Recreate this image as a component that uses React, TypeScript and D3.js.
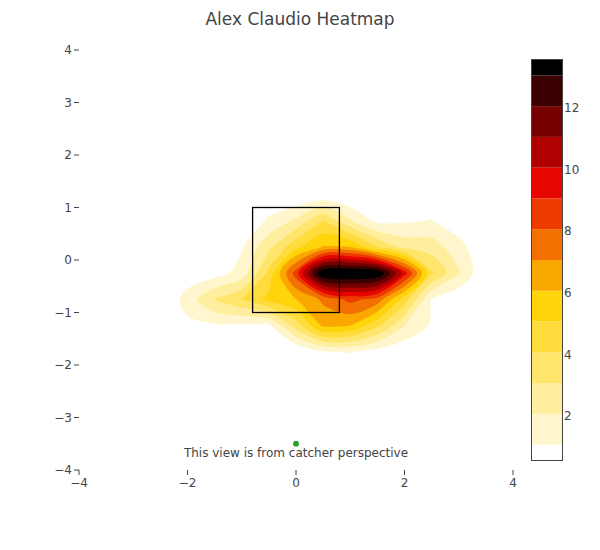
import React from 'react';
import * as d3 from 'd3';

const title = 'Alex Claudio Heatmap';
const note = 'This view is from catcher perspective';

// bin centres of the 2-D pitch histogram (feet)
const xBins = [-2.5, -2, -1.5, -1, -0.5, 0, 0.5, 1, 1.5, 2, 2.5, 3, 3.5];
const yBins = [1.25, 0.75, 0.25, -0.25, -0.75, -1.25, -1.75, -2.25];

// pitch counts per bin, top row first
const counts = [
  [0, 0, 0, 0, 0, 0, 0.2, 0, 0, 0, 0, 0, 0],
  [0, 0, 0, 0, 1.2, 2.2, 4.0, 2.1, 0.7, 0.85, 1.05, 0.3, 0],
  [0, 0, 0, 0.9, 2.74, 4.7, 6.05, 6.0, 4.0, 2.7, 2.5, 1.4, 0],
  [0, 0.4, 0.55, 1.4, 4.3, 8.5, 14.2, 14.4, 14.1, 9.5, 4.1, 2.1, 0],
  [0, 1.4, 3.05, 4.0, 5.3, 5.95, 7.2, 8.3, 7.6, 4.5, 0.9, 0.1, 0],
  [0, 0.75, 0.85, 0.8, 0.8, 3.5, 6.2, 6.0, 4.2, 2.0, 0.85, 0, 0],
  [0, 0, 0, 0, 0, 0, 0.85, 1.05, 0.6, 0.2, 0, 0, 0],
  [0, 0, 0, 0, 0, 0, 0, 0, 0, 0, 0, 0, 0],
];

const levels = [1, 2, 3, 4, 5, 6, 7, 8, 9, 10, 11, 12, 13];
const colorbarTicks = [2, 4, 6, 8, 10, 12];
const xTicks = [-4, -2, 0, 2, 4];
const yTicks = [-4, -3, -2, -1, 0, 1, 2, 3, 4];
const zoneX = [-0.8, 0.8];
const zoneY = [-1, 1];
const plate = { x: 0, y: -3.5 };

const W = 600;
const H = 550;
const font = '"DejaVu Sans", Verdana, sans-serif';
const ink = '#444';

const fmt = (v: number) => (v < 0 ? '\u2212' + Math.abs(v) : String(v));

export default function App() {
  const x = d3.scaleLinear().domain([-4, 4]).range([79, 513]);
  const y = d3.scaleLinear().domain([-4, 4]).range([470, 50]);

  // grid coordinates -> data coordinates (value i sits at i + 0.5)
  const nx = xBins.length;
  const ny = yBins.length;
  const gx = d3.scaleLinear().domain([0.5, nx - 0.5]).range([xBins[0], xBins[nx - 1]]);
  const gy = d3.scaleLinear().domain([0.5, ny - 0.5]).range([yBins[0], yBins[ny - 1]]);

  const hot = d3
    .scaleLinear<string>()
    .domain([0, 0.4, 0.7, 1])
    .range(['rgb(255,255,255)', 'rgb(255,210,0)', 'rgb(230,0,0)', 'rgb(0,0,0)'])
    .interpolate(d3.interpolateRgb);
  const bandColor = (i: number) => hot(i / levels.length);

  const contours = d3.contours().size([nx, ny]).thresholds(levels)(counts.flat());

  const line = d3.line().curve(d3.curveCatmullRomClosed.alpha(0.5));
  const toPath = (mp: number[][][][]) =>
    mp
      .map((poly) =>
        poly
          .map((ring) =>
            line(ring.slice(0, -1).map(([a, b]) => [x(gx(a)), y(gy(b))] as [number, number]))
          )
          .join('')
      )
      .join('');

  // colour bar
  const cb = d3.scaleLinear().domain([levels[0] - 0.5, levels[levels.length - 1] + 0.5]).range([460, 60]);
  const edges = [levels[0] - 0.5, ...levels, levels[levels.length - 1] + 0.5];

  return (
    <svg
      width={W}
      height={H}
      style={{ position: 'absolute', left: 0, top: 0, background: '#fff' }}
      fontFamily={font}
    >
      <rect width={W} height={H} fill="#fff" />

      <g>
        {contours.map((c, i) => (
          <path key={i} d={toPath(c.coordinates as any)} fill={bandColor(i + 1)} stroke="none" />
        ))}
      </g>

      <rect
        x={x(zoneX[0])}
        y={y(zoneY[1])}
        width={x(zoneX[1]) - x(zoneX[0])}
        height={y(zoneY[0]) - y(zoneY[1])}
        fill="none"
        stroke="#000"
        strokeWidth={1.3}
      />

      <circle cx={x(plate.x)} cy={y(plate.y)} r={3} fill="#2ca02c" />
      <text x={x(0)} y={457} textAnchor="middle" fontSize={12} fill={ink}>
        {note}
      </text>

      {/* y axis */}
      <g>
        {yTicks.map((t) => (
          <g key={t}>
            <line x1={74} x2={79} y1={y(t)} y2={y(t)} stroke={ink} strokeWidth={1} />
            <text x={72} y={y(t)} dy="0.35em" textAnchor="end" fontSize={12} fill={ink}>
              {fmt(t)}
            </text>
          </g>
        ))}
      </g>

      {/* x axis */}
      <g>
        {xTicks.map((t) => (
          <g key={t}>
            <line x1={x(t)} x2={x(t)} y1={470} y2={475} stroke={ink} strokeWidth={1} />
            <text x={x(t)} y={486.5} textAnchor="middle" fontSize={12} fill={ink}>
              {fmt(t)}
            </text>
          </g>
        ))}
      </g>

      {/* colour bar */}
      <g>
        {edges.slice(0, -1).map((e, i) => (
          <rect
            key={i}
            x={532}
            y={cb(edges[i + 1])}
            width={30}
            height={cb(e) - cb(edges[i + 1])}
            fill={bandColor(i)}
          />
        ))}
        <rect x={531.5} y={59.5} width={31} height={401} fill="none" stroke={ink} strokeWidth={1} />
        {colorbarTicks.map((t) => (
          <text key={t} x={564} y={cb(t) + 2} dy="0.35em" fontSize={12} fill={ink}>
            {t}
          </text>
        ))}
      </g>

      <text x={W / 2} y={25} textAnchor="middle" fontSize={17} fill={ink}>
        {title}
      </text>
    </svg>
  );
}
